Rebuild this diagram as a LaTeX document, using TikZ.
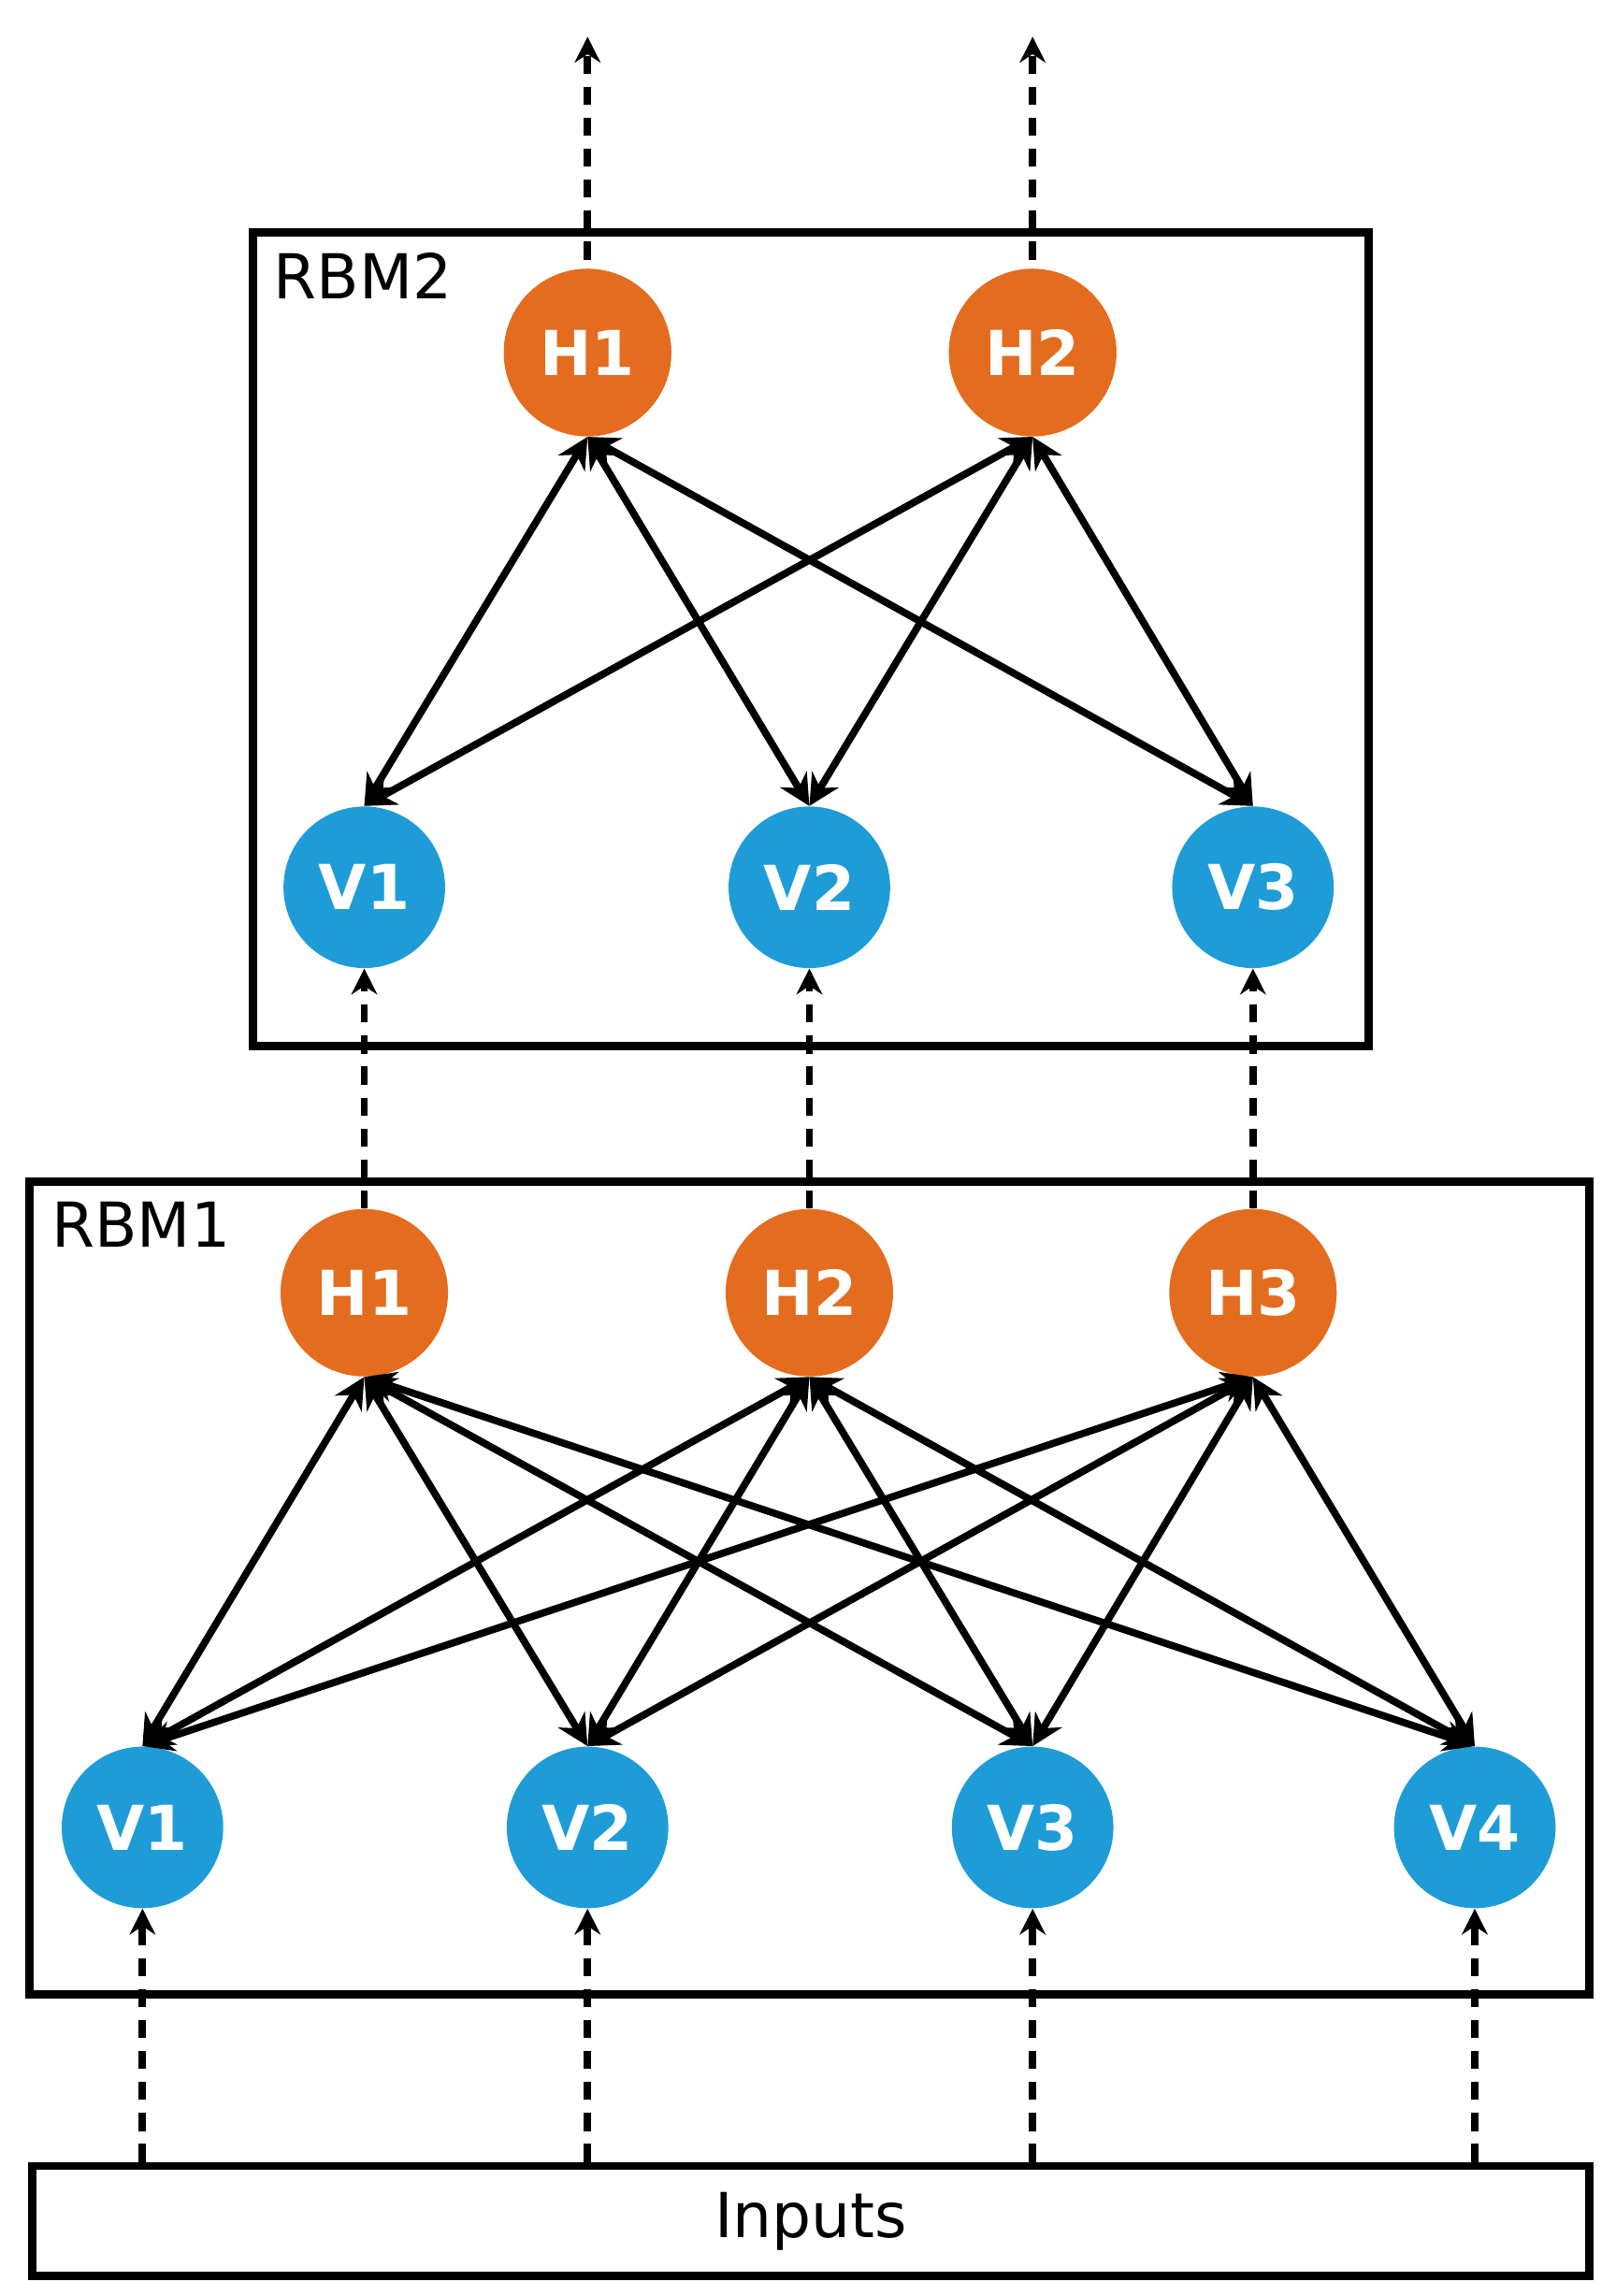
\documentclass[tikz,border=0pt]{standalone}
\usepackage{fontspec}
\setmainfont{DejaVu Sans}
\usetikzlibrary{arrows.meta}
\definecolor{hidorange}{RGB}{228,108,30}
\definecolor{visblue}{RGB}{30,156,215}
\begin{document}
\begin{tikzpicture}[x=0.02cm,y=-0.02cm,
    hid/.style={circle,fill=hidorange,minimum size=2.28cm,inner sep=0pt,text=white,font=\fontsize{24}{28}\selectfont\bfseries},
    vis/.style={circle,fill=visblue,minimum size=2.2cm,inner sep=0pt,text=white,font=\fontsize{24}{28}\selectfont\bfseries},
    box/.style={draw,line width=3.2pt},
    lbl/.style={anchor=north west,font=\fontsize{24}{28}\selectfont,inner sep=0pt},
    link/.style={{Stealth[length=12pt,width=12pt]}-{Stealth[length=12pt,width=12pt]},line width=2.8pt},
    feed/.style={-{Stealth[length=10pt,width=10pt]},line width=2.8pt,dash pattern=on 7pt off 5pt}]
    \useasboundingbox (0,0) rectangle (1100,1563);
    % boxes
    \node[box,minimum width=15.2cm,minimum height=11.08cm] (rbm2) at (552,435) {};
    \node[box,minimum width=21.24cm,minimum height=11.06cm] (rbm1) at (551,1081) {};
    \node[box,minimum width=21.2cm,minimum height=1.5cm,font=\fontsize{24}{28}\selectfont] (inputs) at (552,1512) {Inputs};
    \node[lbl] at (186,172) {RBM2};
    \node[lbl] at (35,818) {RBM1};
    % RBM2 units
    \node[hid] (bh1) at (400,240) {H1};
    \node[hid] (bh2) at (703,240) {H2};
    \node[vis] (bv1) at (248,604) {V1};
    \node[vis] (bv2) at (551,604) {V2};
    \node[vis] (bv3) at (853,604) {V3};
    % RBM1 units
    \node[hid] (ah1) at (248,880) {H1};
    \node[hid] (ah2) at (551,880) {H2};
    \node[hid] (ah3) at (853,880) {H3};
    \node[vis] (av1) at (97,1244) {V1};
    \node[vis] (av2) at (400,1244) {V2};
    \node[vis] (av3) at (703,1244) {V3};
    \node[vis] (av4) at (1004,1244) {V4};
    \coordinate (out1) at (400,25);
    \coordinate (out2) at (703,25);
    % weights
    \foreach \h in {bh1,bh2}
        \foreach \v in {bv1,bv2,bv3}
            \draw[link] (\h.south) -- (\v.north);
    \foreach \h in {ah1,ah2,ah3}
        \foreach \v in {av1,av2,av3,av4}
            \draw[link] (\h.south) -- (\v.north);
    % feed-forward
    \draw[feed] (bh1.center) -- (out1);
    \draw[feed] (bh2.center) -- (out2);
    \draw[feed] (ah1.north) -- (bv1.south);
    \draw[feed] (ah2.north) -- (bv2.south);
    \draw[feed] (ah3.north) -- (bv3.south);
    \foreach \v in {av1,av2,av3,av4}
        \draw[feed] (inputs.north -| \v) -- (\v.south);
    % redraw hidden units over the dashed lines
    \node[hid] at (bh1) {H1};
    \node[hid] at (bh2) {H2};
\end{tikzpicture}
\end{document}
